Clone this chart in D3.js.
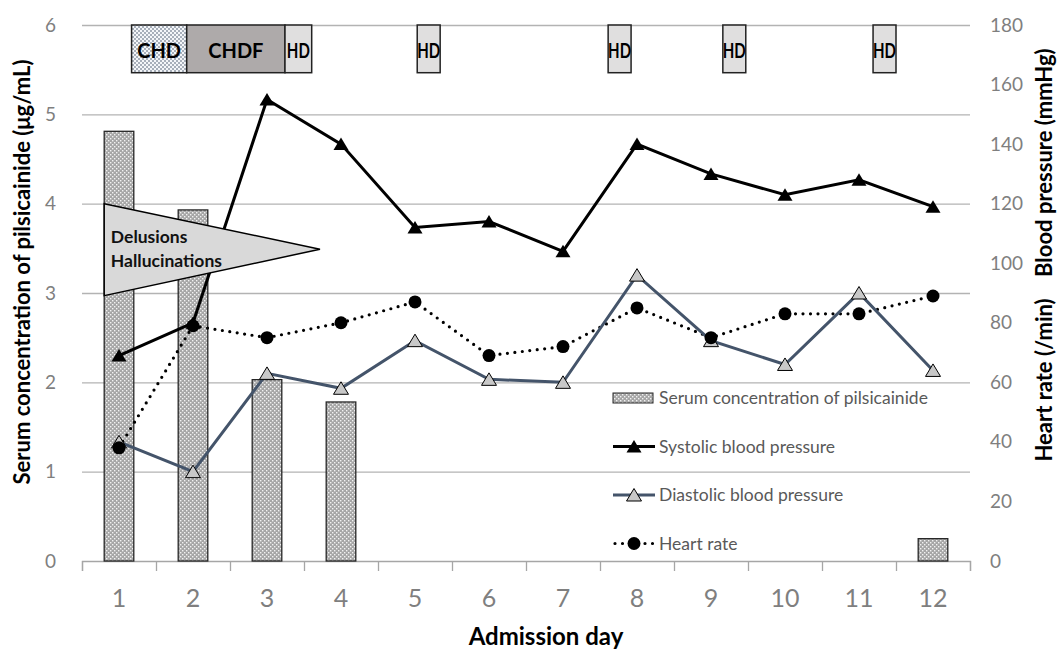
<!DOCTYPE html>
<html lang="en">
<head>
<meta charset="utf-8">
<title>Pilsicainide and vital signs</title>
<script src="https://cdn.jsdelivr.net/npm/d3@7"></script>
<style>
  body { margin: 0; background: #fff; }
  svg { font-family: Lato, "Open Sans", sans-serif; }
  .tick text { fill: #7f7f7f; }
  .grid line { stroke: #b3b3b3; stroke-width: 1.3; }
  .grid path { display: none; }
</style>
</head>
<body>
<script>
// data
var days = [1, 2, 3, 4, 5, 6, 7, 8, 9, 10, 11, 12];
var serum = [4.81, 3.93, 2.03, 1.78, null, null, null, null, null, null, null, 0.25];
var systolic = [69, 80, 155, 140, 112, 114, 104, 140, 130, 123, 128, 119];
var diastolic = [40, 30, 63, 58, 74, 61, 60, 96, 74, 66, 90, 64];
var heartRate = [38, 79, 75, 80, 87, 69, 72, 85, 75, 83, 83, 89];

var leftTicks = [0, 1, 2, 3, 4, 5, 6];
var rightTicks = [0, 20, 40, 60, 80, 100, 120, 140, 160, 180];

// treatment boxes along the top (in day units)
var treatments = ["CHD", "CHDF", "HD", "HD", "HD", "HD", "HD"];
var treatStart = [1.17, 1.915, 3.243, 5.03, 7.61, 9.16, 11.19];
var treatEnd = [1.915, 3.243, 3.604, 5.34, 7.92, 9.47, 11.5];

// callout
var calloutText = ["Delusions", "Hallucinations"];

var w = 1064, h = 650;
var pLeft = 82, pRight = 970, pTop = 25, pBottom = 561;

var svg = d3.select("body").append("svg")
  .attr("width", w)
  .attr("height", h);

var defs = svg.append("defs");
// checkered pattern for bars
var pat = defs.append("pattern").attr("id", "checks")
  .attr("width", 4).attr("height", 4).attr("patternUnits", "userSpaceOnUse");
pat.append("rect").attr("width", 4).attr("height", 4).attr("fill", "#a6a6a6");
pat.append("rect").attr("x", 0).attr("y", 0).attr("width", 1.4).attr("height", 1.4).attr("fill", "#f2f2f2");
pat.append("rect").attr("x", 2).attr("y", 2).attr("width", 1.4).attr("height", 1.4).attr("fill", "#f2f2f2");
// dotted pattern for CHD box
var dots = defs.append("pattern").attr("id", "dots")
  .attr("width", 4).attr("height", 4).attr("patternUnits", "userSpaceOnUse");
dots.append("rect").attr("width", 4).attr("height", 4).attr("fill", "#f4f6f9");
dots.append("circle").attr("cx", 1).attr("cy", 1).attr("r", 0.8).attr("fill", "#44546a");
dots.append("circle").attr("cx", 3).attr("cy", 3).attr("r", 0.8).attr("fill", "#44546a");

var x = d3.scaleBand().domain(days).range([pLeft, pRight]);
var xc = d3.scaleLinear().domain([0.5, 12.5]).range([pLeft, pRight]);
var yL = d3.scaleLinear().domain([0, 6]).range([pBottom, pTop]);
var yR = d3.scaleLinear().domain([0, 180]).range([pBottom, pTop]);

function cx(d) { return x(d) + x.bandwidth() / 2; }

// gridlines
svg.append("g")
  .attr("class", "grid")
  .attr("transform", "translate(" + pLeft + ",0)")
  .call(d3.axisLeft(yL).tickValues(leftTicks.slice(1)).tickSize(-(pRight - pLeft)).tickFormat(""));

// left axis labels
var la = svg.append("g")
  .attr("transform", "translate(" + (pLeft - 26) + ",0)")
  .call(d3.axisLeft(yL).tickValues(leftTicks).tickSize(0).tickPadding(0).tickFormat(d3.format("d")));
la.select(".domain").remove();
la.selectAll("text").attr("font-size", 19).attr("font-family", "Lato");

// right axis labels
var ra = svg.append("g")
  .attr("transform", "translate(" + (pRight + 20) + ",0)")
  .call(d3.axisRight(yR).tickValues(rightTicks).tickSize(0).tickPadding(0));
ra.select(".domain").remove();
ra.selectAll("text").attr("font-size", 19).attr("font-family", "Lato");

// x axis: line + boundary ticks
var xa = svg.append("g")
  .attr("transform", "translate(0," + pBottom + ")")
  .call(d3.axisBottom(xc).tickValues(days.map(function(d) { return d - 0.5; }).concat([12.5])).tickSize(10).tickFormat(""));
xa.select(".domain").attr("stroke", "#a6a6a6").attr("stroke-width", 1.3);
xa.selectAll(".tick line").attr("stroke", "#a6a6a6").attr("stroke-width", 1.3);

var xl = svg.append("g")
  .attr("transform", "translate(0," + (pBottom + 28) + ")")
  .call(d3.axisBottom(x).tickSize(0).tickPadding(0));
xl.select(".domain").remove();
xl.selectAll("text").attr("font-size", 25).attr("font-family", "Lato");

// bars
var serumData = days.map(function(d, i) { return { day: d, v: serum[i] }; })
  .filter(function(d) { return d.v != null; });
var bw = x.bandwidth() * 0.4;
svg.selectAll("rect.bar")
  .data(serumData)
  .enter()
  .append("rect")
  .attr("class", "bar")
  .attr("x", function(d) { return cx(d.day) - bw / 2; })
  .attr("y", function(d) { return yL(d.v); })
  .attr("width", bw)
  .attr("height", function(d) { return yL(0) - yL(d.v); })
  .attr("fill", "url(#checks)")
  .attr("stroke", "#262626")
  .attr("stroke-width", 1.3);

var tri = "M0,-6.5L7.5,6L-7.5,6Z";

function series(vals) {
  return days.map(function(d, i) { return { day: d, v: vals[i] }; });
}
var line = d3.line()
  .x(function(d) { return cx(d.day); })
  .y(function(d) { return yR(d.v); });

// heart rate
svg.append("path")
  .datum(series(heartRate))
  .attr("d", line)
  .attr("fill", "none")
  .attr("stroke", "#000")
  .attr("stroke-width", 3.2)
  .attr("stroke-linecap", "round")
  .attr("stroke-dasharray", "0,7.5");

// diastolic
svg.append("path")
  .datum(series(diastolic))
  .attr("d", line)
  .attr("fill", "none")
  .attr("stroke", "#44546a")
  .attr("stroke-width", 3);

// systolic
svg.append("path")
  .datum(series(systolic))
  .attr("d", line)
  .attr("fill", "none")
  .attr("stroke", "#000")
  .attr("stroke-width", 3);

svg.selectAll("path.sys")
  .data(series(systolic))
  .enter()
  .append("path")
  .attr("class", "sys")
  .attr("d", tri)
  .attr("transform", function(d) { return "translate(" + cx(d.day) + "," + yR(d.v) + ")"; })
  .attr("fill", "#000");

svg.selectAll("path.dia")
  .data(series(diastolic))
  .enter()
  .append("path")
  .attr("class", "dia")
  .attr("d", tri)
  .attr("transform", function(d) { return "translate(" + cx(d.day) + "," + yR(d.v) + ")"; })
  .attr("fill", "#c8c8c8")
  .attr("stroke", "#000")
  .attr("stroke-width", 1);

svg.selectAll("circle.hr")
  .data(series(heartRate))
  .enter()
  .append("circle")
  .attr("class", "hr")
  .attr("cx", function(d) { return cx(d.day); })
  .attr("cy", function(d) { return yR(d.v); })
  .attr("r", 6.5)
  .attr("fill", "#000");

// callout triangle
var callout = [[0.80, 4.0], [3.716, 3.49], [0.80, 2.97]];
svg.append("path")
  .attr("d", "M" + callout.map(function(p) { return xc(p[0]) + "," + yL(p[1]); }).join("L") + "Z")
  .attr("fill", "#d9d9d9")
  .attr("stroke", "#000")
  .attr("stroke-width", 1.5);
svg.selectAll("text.callout")
  .data(calloutText)
  .enter()
  .append("text")
  .attr("class", "callout")
  .attr("x", xc(0.89))
  .attr("y", function(d, i) { return yL(3.555) + i * 24; })
  .attr("font-size", 17.5)
  .attr("font-weight", "bold")
  .attr("fill", "#111")
  .text(function(d) { return d; });

// treatment boxes
var fills = { "CHD": "url(#dots)", "CHDF": "#aeaaaa", "HD": "#e0dfdf" };
var tb = svg.selectAll("g.treat")
  .data(treatments.map(function(t, i) { return { name: t, s: treatStart[i], e: treatEnd[i] }; }))
  .enter()
  .append("g")
  .attr("class", "treat");
tb.append("rect")
  .attr("x", function(d) { return xc(d.s); })
  .attr("y", yL(6))
  .attr("width", function(d) { return xc(d.e) - xc(d.s); })
  .attr("height", yL(5.466) - yL(6))
  .attr("fill", function(d) { return fills[d.name]; })
  .attr("stroke", "#222")
  .attr("stroke-width", 1.5);
tb.append("text")
  .attr("x", function(d) { return (xc(d.s) + xc(d.e)) / 2; })
  .attr("y", 58)
  .attr("text-anchor", "middle")
  .attr("font-size", 20)
  .attr("font-weight", "bold")
  .attr("fill", "#000")
  .attr("textLength", function(d) { return d.name === "HD" ? 23 : null; })
  .attr("lengthAdjust", "spacingAndGlyphs")
  .text(function(d) { return d.name; });

// legend
var legendNames = ["Serum concentration of pilsicainide", "Systolic blood pressure", "Diastolic blood pressure", "Heart rate"];
var lx = 613, ly = 398, lgap = 48.5;
var lg = svg.append("g");
lg.append("rect").attr("x", lx).attr("y", ly - 5).attr("width", 40).attr("height", 10)
  .attr("fill", "url(#checks)").attr("stroke", "#262626").attr("stroke-width", 1);
lg.append("line").attr("x1", lx).attr("x2", lx + 42).attr("y1", ly + lgap).attr("y2", ly + lgap)
  .attr("stroke", "#000").attr("stroke-width", 3);
lg.append("path").attr("d", tri).attr("transform", "translate(" + (lx + 21) + "," + (ly + lgap) + ")").attr("fill", "#000");
lg.append("line").attr("x1", lx).attr("x2", lx + 42).attr("y1", ly + 2 * lgap).attr("y2", ly + 2 * lgap)
  .attr("stroke", "#44546a").attr("stroke-width", 3);
lg.append("path").attr("d", tri).attr("transform", "translate(" + (lx + 21) + "," + (ly + 2 * lgap) + ")")
  .attr("fill", "#c8c8c8").attr("stroke", "#000").attr("stroke-width", 1);
lg.append("line").attr("x1", lx + 2).attr("x2", lx + 42).attr("y1", ly + 3 * lgap).attr("y2", ly + 3 * lgap)
  .attr("stroke", "#000").attr("stroke-width", 3.2).attr("stroke-linecap", "round").attr("stroke-dasharray", "0,7.5");
lg.append("circle").attr("cx", lx + 21).attr("cy", ly + 3 * lgap).attr("r", 6.5).attr("fill", "#000");
lg.selectAll("text")
  .data(legendNames)
  .enter()
  .append("text")
  .attr("x", lx + 46)
  .attr("y", function(d, i) { return ly + i * lgap + 6; })
  .attr("font-size", 17.5)
  .attr("fill", "#595959")
  .text(function(d) { return d; });

// axis titles
svg.append("text")
  .attr("x", 546)
  .attr("y", 645)
  .attr("text-anchor", "middle")
  .attr("font-size", 24)
  .attr("font-weight", "bold")
  .text("Admission day");

svg.append("text")
  .attr("transform", "translate(30,272) rotate(-90)")
  .attr("text-anchor", "middle")
  .attr("font-size", 22)
  .attr("font-weight", "bold")
  .text("Serum concentration of pilsicainide (μg/mL)");

svg.append("text")
  .attr("transform", "translate(1052,255) rotate(-90)")
  .attr("text-anchor", "middle")
  .attr("font-size", 22)
  .attr("font-weight", "bold")
  .attr("xml:space", "preserve")
  .text("Heart rate (/min)    Blood pressure (mmHg)");
</script>
</body>
</html>
